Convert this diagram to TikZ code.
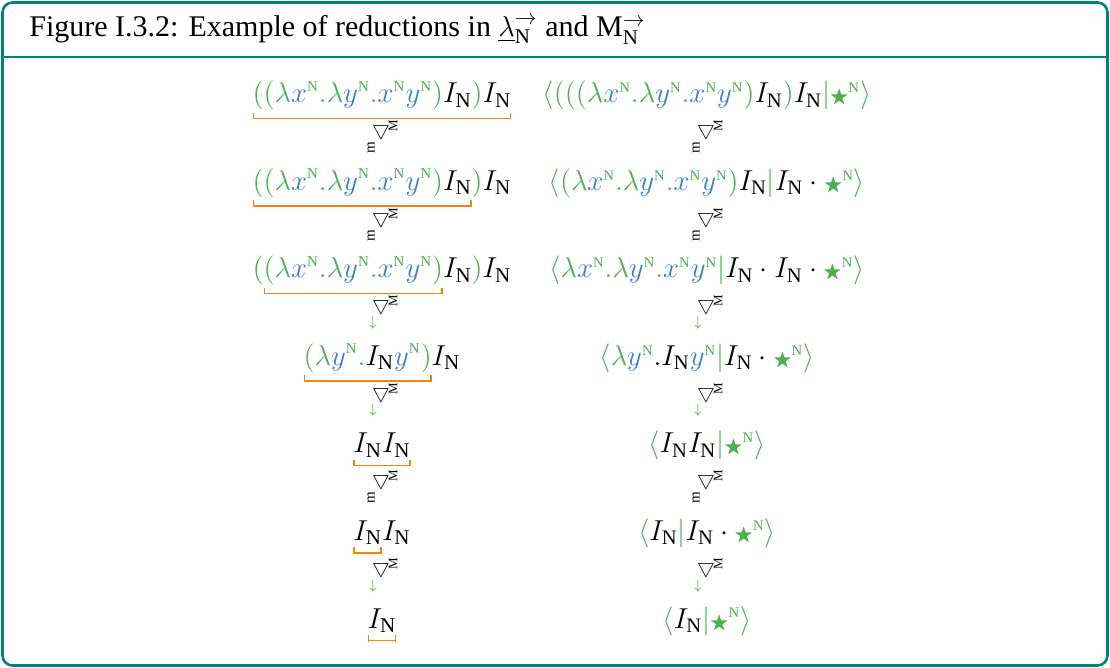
\documentclass[tikz,border=0pt]{standalone}
\usepackage{amssymb}
\usepackage{mathtools}
\usepackage{graphicx}
\usepackage{fontspec}
\setmainfont{Liberation Serif}
\definecolor{gr}{HTML}{4CAF50}
\definecolor{bl}{HTML}{3B7FC4}
\definecolor{ob}{HTML}{F5840F}
\definecolor{tl}{HTML}{00827F}
\newcommand\gc[1]{{\color{gr}#1}}
\newcommand\bc[1]{{\color{bl}#1}}
\newcommand\supN{^{\gc{\scriptscriptstyle\mathrm{N}}}}
\newcommand\xN{\bc{x}\supN}
\newcommand\yN{\bc{y}\supN}
\newcommand\IN{I_{\mathrm{N}}}
\newcommand\sN{\gc{\mathord{\scalebox{0.66}{$\bigstar$}}\supN}}
\newcommand\ubr[1]{{\color{ob}\underbracket[0.85pt][2.5pt]{\color{black}#1}}}
\tikzset{
  term/.style={anchor=base, inner sep=0pt, font=\fontsize{15}{17}\selectfont},
  rterm/.style={anchor=base, inner sep=0pt, font=\fontsize{14.7}{17}\selectfont},
  tri/.style={inner sep=0pt, font=\fontsize{10}{10}\selectfont},
  tiny lbl/.style={inner sep=0pt, font=\fontsize{6.5}{7}\selectfont},
  m lbl/.style={inner sep=0pt, font=\fontsize{7.5}{8}\selectfont},
  garrow/.style={inner sep=0pt, text=gr, font=\fontsize{7.5}{7.5}\selectfont},
}
\begin{document}
\begin{tikzpicture}[x=0.5pt,y=-0.5pt]
\useasboundingbox (0,0) rectangle (1110,668);
\fill[white] (0,0) rectangle (1110,668);
\draw[tl, line width=1.3pt, rounded corners=5pt] (2.5,2.5) rectangle (1107.5,665.5);
\draw[tl, line width=1.4pt] (2.5,57) -- (1107.5,57);
\node[anchor=west, inner sep=0pt, font=\fontsize{15}{17}\selectfont] (title) at (29,30)
  {Figure I.3.2: Example of reductions in $\underline{\lambda}^{\rightarrow}_{\mathrm{N}}$ and $\mathrm{M}^{\rightarrow}_{\mathrm{N}}$};
% left column
\node[term] (L1) at (382,103) {$\ubr{\gc{((\lambda}\xN\gc{.\lambda}\yN\gc{.}\xN\yN\gc{)}\IN\gc{)}\IN}$};
\node[term] (L2) at (382,190.5) {$\ubr{\gc{((\lambda}\xN\gc{.\lambda}\yN\gc{.}\xN\yN\gc{)}\IN}\gc{)}\IN$};
\node[term] (L3) at (382,278) {$\gc{(}\ubr{\gc{(\lambda}\xN\gc{.\lambda}\yN\gc{.}\xN\yN\gc{)}}\IN\gc{)}\IN$};
\node[term] (L4) at (382,365.5) {$\ubr{\gc{(\lambda}\yN\gc{.}\IN\yN\gc{)}}\IN$};
\node[term] (L5) at (382,453) {$\ubr{\IN\IN}$};
\node[term] (L6) at (382,540.5) {$\ubr{\IN}\IN$};
\node[term] (L7) at (382,628) {$\ubr{\IN}$};
% right column
\node[rterm] (R1) at (707,103) {$\gc{\langle(((\lambda}\xN\gc{.\lambda}\yN\gc{.}\xN\yN\gc{)}\IN\gc{)}\IN\gc{|}\sN\gc{\rangle}$};
\node[rterm] (R2) at (707,190.5) {$\gc{\langle(\lambda}\xN\gc{.\lambda}\yN\gc{.}\xN\yN\gc{)}\IN\gc{|}\IN\cdot\sN\gc{\rangle}$};
\node[rterm] (R3) at (707,278) {$\gc{\langle\lambda}\xN\gc{.\lambda}\yN\gc{.}\xN\yN\gc{|}\IN\cdot\IN\cdot\sN\gc{\rangle}$};
\node[rterm] (R4) at (707,365.5) {$\gc{\langle\lambda}\yN.\IN\yN\gc{|}\IN\cdot\sN\gc{\rangle}$};
\node[rterm] (R5) at (707,453) {$\gc{\langle}\IN\IN\gc{|}\sN\gc{\rangle}$};
\node[rterm] (R6) at (707,540.5) {$\gc{\langle}\IN\gc{|}\IN\cdot\sN\gc{\rangle}$};
\node[rterm] (R7) at (707,628) {$\gc{\langle}\IN\gc{|}\sN\gc{\rangle}$};
% transitions
\foreach \c/\cx in {L/382,R/707}{
  \foreach \i/\k in {1/E,2/E,3/A,4/A,5/E,6/A}{
    \pgfmathsetmacro{\by}{103+87.5*(\i-1)}
    \node[tri] (t\c\i) at (\cx-1,\by+28) {$\bigtriangledown$};
    \node[tiny lbl] (s\c\i) at (\cx+11,\by+23) {\rotatebox{90}{M}};
    \if\k E
      \node[m lbl] (e\c\i) at (\cx-11,\by+45) {\rotatebox{90}{m}};
    \else
      \node[garrow] (a\c\i) at (\cx-9,\by+45) {$\downarrow$};
    \fi
  }
}
\end{tikzpicture}
\end{document}
